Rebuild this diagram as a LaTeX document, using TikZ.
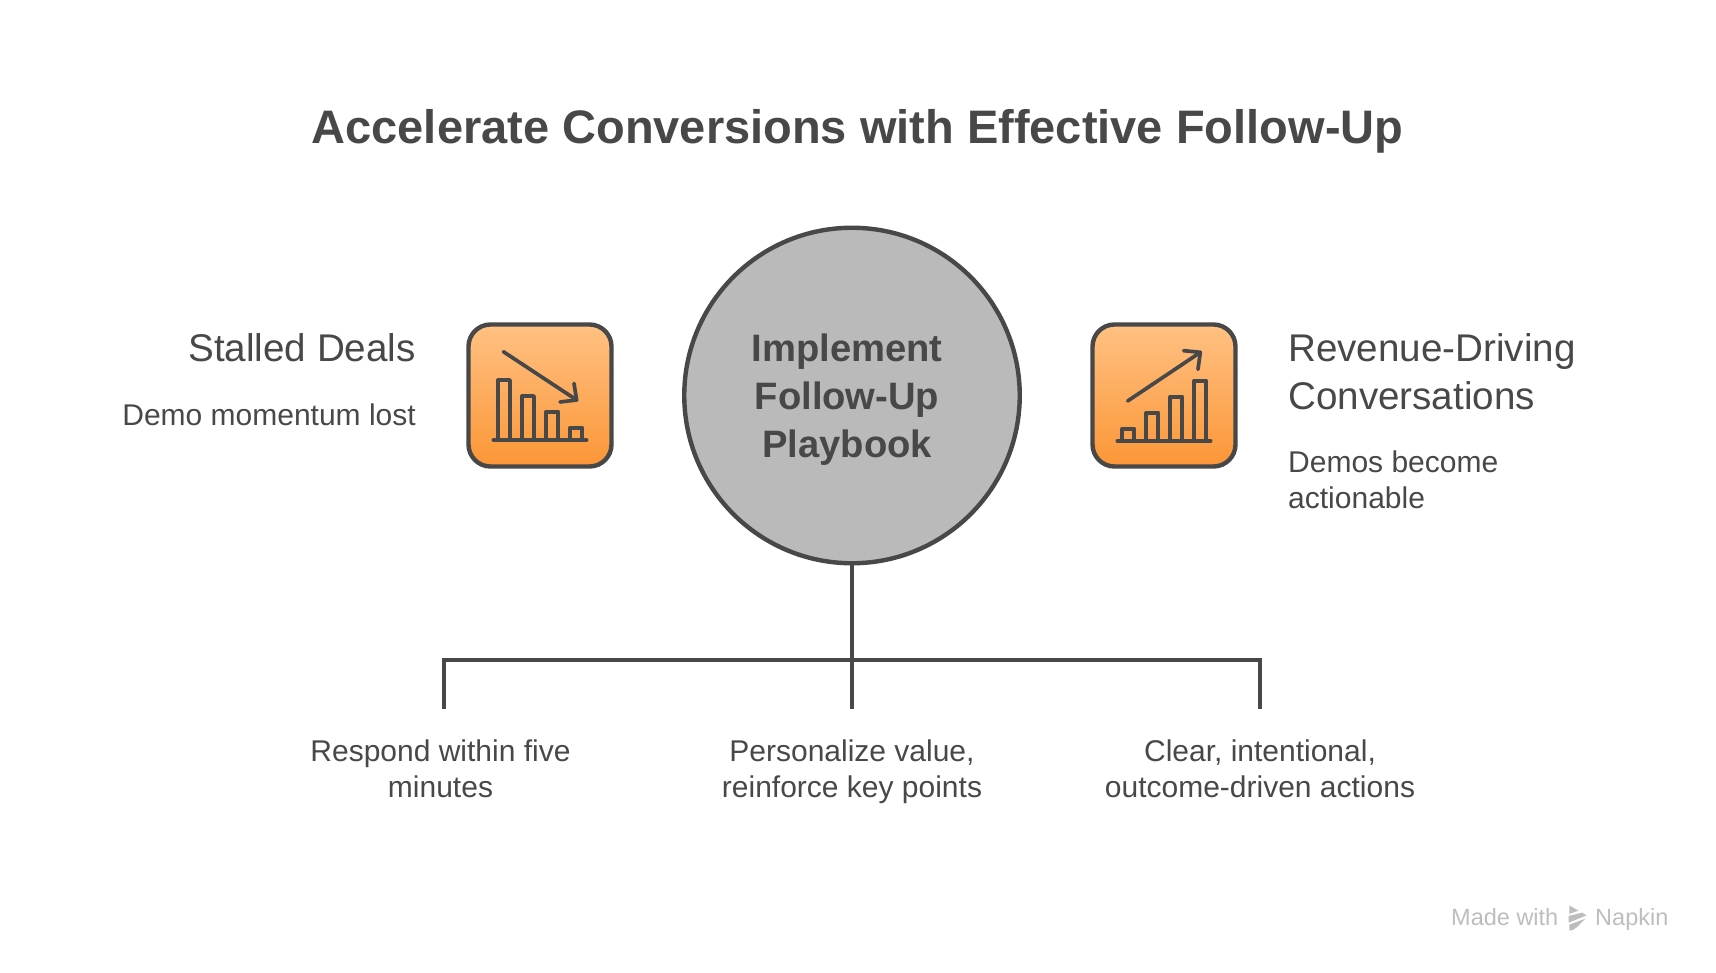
\documentclass[tikz,border=0pt]{standalone}
\usepackage{fontspec}
\setmainfont{Liberation Sans}
\definecolor{ink}{HTML}{484848}
\definecolor{disc}{HTML}{BABABA}
\definecolor{boxtop}{HTML}{FFC183}
\definecolor{boxbot}{HTML}{FB9636}
\definecolor{wmgray}{HTML}{BDBDBD}
\tikzset{
  iconbox/.style={draw=ink,line width=4.4pt,rounded corners=22pt,top color=boxtop,bottom color=boxbot,minimum width=143pt,minimum height=142pt,inner sep=0pt},
  glyph/.style={draw=ink,line width=3.7pt,line cap=round,line join=round},
  link/.style={draw=ink,line width=4pt},
  ttl/.style={text=ink,font=\fontsize{47}{54}\selectfont\bfseries,inner sep=0pt},
  hdg/.style={text=ink,font=\fontsize{38.6}{48}\selectfont,inner sep=0pt},
  bdy/.style={text=ink,font=\fontsize{30}{36}\selectfont,inner sep=0pt},
  hubtxt/.style={text=ink,font=\fontsize{38.2}{48}\selectfont\bfseries,inner sep=0pt,align=center},
}
\begin{document}
\begin{tikzpicture}[x=1pt,y=-1pt]
\useasboundingbox (0,0) rectangle (1716,972);
\node[ttl,anchor=base] (title) at (857.5,143) {Accelerate Conversions with Effective Follow-Up};

% hub and connectors
\node[circle,draw=ink,fill=disc,line width=4.4pt,minimum size=335.5pt,inner sep=0pt] (hub) at (852,395.5) {};
\coordinate (jn) at (852,660);
\coordinate (jl) at (444,660);
\coordinate (jr) at (1260,660);
\coordinate (el) at (444,709);
\coordinate (ec) at (852,709);
\coordinate (er) at (1260,709);
\draw[link] (hub.south) -- (ec);
\draw[link,line join=miter] (el) -- (jl) -- (jr) -- (er);
\node[hubtxt] (hubtext) at (847,399.5) {Implement\\Follow-Up\\Playbook};

% left icon
\node[iconbox] (lbox) at (540,395.5) {};
\begin{scope}[shift={(450,310)},x=0.3333pt,y=-0.3333pt]
\draw[glyph] (130,390) -- (410,390);
\draw[glyph] (145,390) -- (145,210) -- (180,210) -- (180,390);
\draw[glyph] (217,390) -- (217,258) -- (252,258) -- (252,390);
\draw[glyph] (289,390) -- (289,305) -- (325,305) -- (325,390);
\draw[glyph] (361,390) -- (361,353) -- (397,353) -- (397,390);
\draw[glyph] (160,125) -- (380,270);
\draw[glyph] (372,220) -- (380,270) -- (330,276);
\end{scope}

% right icon
\node[iconbox] (rbox) at (1164,395.5) {};
\begin{scope}[shift={(1075,310)},x=0.3333pt,y=-0.3333pt]
\draw[glyph] (127,393) -- (407,393);
\draw[glyph] (142,393) -- (142,356) -- (178,356) -- (178,393);
\draw[glyph] (214,393) -- (214,308) -- (250,308) -- (250,393);
\draw[glyph] (286,393) -- (286,260) -- (322,260) -- (322,393);
\draw[glyph] (358,393) -- (358,212) -- (394,212) -- (394,393);
\draw[glyph] (158,273) -- (376,127);
\draw[glyph] (326,122) -- (376,127) -- (369,178);
\end{scope}

% side labels
\node[hdg,anchor=base east] (lh) at (416,361) {Stalled Deals};
\node[bdy,anchor=base east] (lb) at (416,425) {Demo momentum lost};
\node[hdg,anchor=west,align=left] (rh) at (1288,372) {Revenue-Driving\\Conversations};
\node[bdy,anchor=west,align=left] (rb) at (1288,480) {Demos become\\actionable};

% bottom labels
\node[bdy,align=center] (b1) at (440.5,769) {Respond within five\\minutes};
\node[bdy,align=center] (b2) at (852,771.5) {Personalize value,\\reinforce key points};
\node[bdy,align=center] (b3) at (1260,769) {Clear, intentional,\\outcome-driven actions};

% watermark
\node[text=wmgray,font=\fontsize{23.5}{28}\selectfont,inner sep=0pt,anchor=base west] (wm1) at (1451,925) {Made with};
\node[text=wmgray,font=\fontsize{23.5}{28}\selectfont,inner sep=0pt,anchor=base west] (wm2) at (1595,925) {Napkin};
\begin{scope}[shift={(1430,890)},x=0.3333pt,y=-0.3333pt]
\fill[wmgray] (418,46) -- (445,62) -- (418,72) -- cycle;
\fill[wmgray] (416,78) -- (456,68) -- (470,76) -- (416,98) -- cycle;
\fill[wmgray] (418,104) -- (466,86) -- (440,112) -- (428,120) -- (418,122) -- cycle;
\end{scope}
\end{tikzpicture}
\end{document}
